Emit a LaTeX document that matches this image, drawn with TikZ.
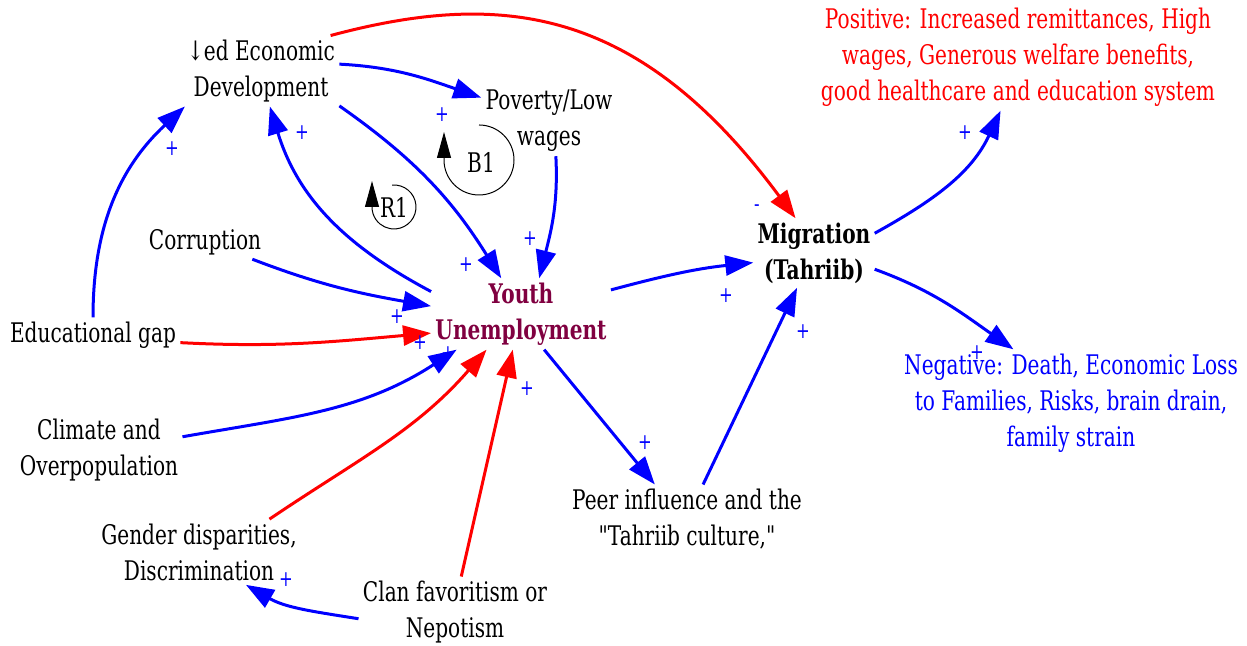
\documentclass[tikz,border=0pt]{standalone}
\usepackage{fontspec}
\setmainfont{DejaVu Serif}[Ligatures=TeXOff,FakeStretch=0.745]
\usetikzlibrary{arrows.meta}
\definecolor{youthred}{RGB}{128,0,64}

\begin{document}
\begin{tikzpicture}[x=0.5pt,y=0.5pt,
  var/.style={align=center,inner sep=2pt,font=\fontsize{13.5}{18}\selectfont},
  keyvar/.style={var,font=\fontsize{13.5}{18}\selectfont\bfseries},
  link/.style={-{Triangle[length=14pt,width=10pt]},line width=1.5pt,blue},
  sign/.style={blue,inner sep=0pt,font=\fontsize{11}{14}\selectfont},
  loopmark/.style={line width=0.5pt,-{Triangle[length=13pt,width=7pt]}}]
\useasboundingbox (0,0) rectangle (1247,646);

\node[var] (econ) at (261,575) {↓ed Economic\\Development};
\node[var] (pov) at (549,525) {Poverty/Low\\wages};
\node[var] (corr) at (205,404) {Corruption};
\node[keyvar,youthred] (youth) at (521,332) {Youth\\Unemployment};
\node[var] (edu) at (93,311) {Educational gap};
\node[var] (clim) at (99,196) {Climate and\\Overpopulation};
\node[var] (gend) at (199,94) {Gender disparities,\\Discrimination};
\node[var] (clan) at (455,34) {Clan favoritism or\\Nepotism};
\node[var] (peer) at (687,127) {Peer influence and the\\"Tahriib culture,"};
\node[keyvar] (mig) at (814,393) {Migration\\(Tahriib)};
\node[var,red] (pos) at (1018,589) {Positive: Increased remittances, High\\wages, Generous welfare benefits,\\good healthcare and education system};
\node[var,blue] (neg) at (1071,243) {Negative: Death, Economic Loss\\to Families, Risks, brain drain,\\family strain};

\draw[link] (econ.5) to[out=-3,in=161] (pov.161);
\draw[link] (econ.-24) to[out=-35,in=122] (youth.119);
\draw[link] (youth.166) to[out=152,in=-73] (econ.-76);
\draw[link] (pov.-79) to[out=-87,in=76] (youth.63);
\draw[link] (corr.-20) to[out=-21,in=170] (youth.175);
\draw[link,red] (edu.-5) to[out=-3,in=185] (youth.192);
\draw[link] (clim.9) to[out=10,in=213] (youth.209);
\draw[link,red] (gend.25) to[out=34,in=229] (youth.226);
\draw[link,red] (clan.80) -- (youth.257);
\draw[link] (clan.184) to[out=171,in=-30] (gend.-35);
\draw[link] (edu.north) to[out=90,in=-137] (econ.-155);
\draw[link] (youth.-57) -- (peer.133);
\draw[link] (peer.65) -- (mig.244);
\draw[link] (youth.15) to[out=15,in=186] (mig.189);
\draw[link,red] (econ.27) to[out=15,in=126.5,out looseness=0.9,in looseness=1.36] (mig.118);
\draw[link] (mig.18) to[out=29,in=245] (pos.252);
\draw[link] (mig.-15) to[out=-20,in=145] (neg.137);

\foreach \x/\y [count=\i] in {442/531,302/513,172/497,466/381,530/407,397/329,420/303,448/292,527/257,286/66,645/203,803/314,726/350,965/513,977/293}
  \node[sign] (s\i) at (\x,\y) {+};
\node[sign] (sneg) at (757,438) {-};

\node[var] (r1) at (394,439) {R1};
\draw[loopmark] ([shift={(95:11pt)}]r1.center) arc[start angle=95,end angle=-180,radius=11pt] -- ++(0,26);
\node[var] (b1) at (481,484) {B1};
\draw[loopmark] ([shift={(90:17.5pt)}]479,486) arc[start angle=90,end angle=-180,radius=17.5pt] -- ++(0,28);
\end{tikzpicture}
\end{document}
